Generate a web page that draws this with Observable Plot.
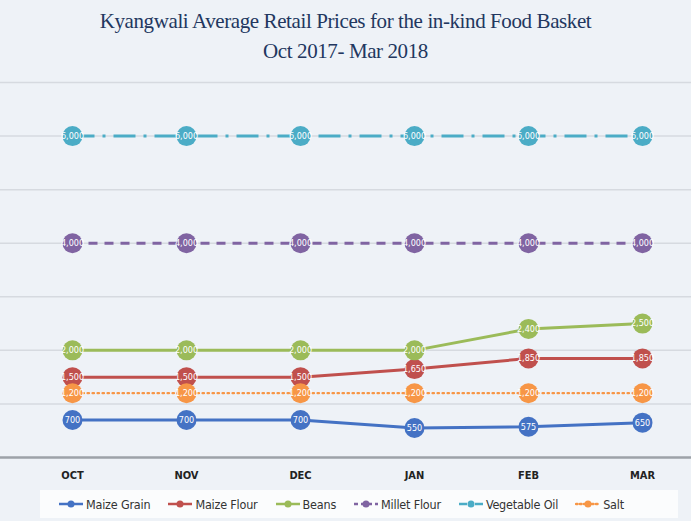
<!DOCTYPE html>
<html><head><meta charset="utf-8">
<script src="https://cdn.jsdelivr.net/npm/d3@7"></script>
<script src="https://cdn.jsdelivr.net/npm/@observablehq/plot@0.6"></script>
<style>
body{margin:0;background:#eef2f7;width:691px;height:521px;overflow:hidden;position:relative;}
#title{height:72px;text-align:center;font-family:"Liberation Serif",serif;color:#22375f;font-size:21px;line-height:30px;padding-top:6px;box-sizing:border-box;letter-spacing:-0.4px;}
#chart{position:absolute;left:0;top:72px;}
#legend{position:absolute;left:40px;top:490px;width:638px;height:28px;background:#fbfcfd;display:flex;align-items:center;gap:17px;padding-left:18px;box-sizing:border-box;font-family:"Liberation Sans Narrow","DejaVu Sans Condensed",sans-serif;font-size:12.5px;letter-spacing:-0.2px;color:#333;}
.item{display:flex;align-items:center;gap:2px;}
</style></head><body>
<div id="title"><div>Kyangwali Average Retail Prices for the in-kind Food Basket</div><div>Oct 2017- Mar 2018</div></div>
<div id="chart"></div>
<div id="legend"></div>
<script>
const months = ["OCT","NOV","DEC","JAN","FEB","MAR"];
const maizeGrain = [700,700,700,550,575,650];
const maizeFlour = [1500,1500,1500,1650,1850,1850];
const beans = [2000,2000,2000,2000,2400,2500];
const milletFlour = [4000,4000,4000,4000,4000,4000];
const vegetableOil = [6000,6000,6000,6000,6000,6000];
const salt = [1200,1200,1200,1200,1200,1200];
const seriesNames = ["Maize Grain","Maize Flour","Beans","Millet Flour","Vegetable Oil","Salt"];
const seriesValues = [maizeGrain, maizeFlour, beans, milletFlour, vegetableOil, salt];
const seriesColors = ["#4472c4","#c0504d","#9bbb59","#8064a2","#4bacc6","#f79646"];
const seriesDash = [null, null, null, "9,7", "22,8,3,8", "1.5,3.5"];
const seriesWidth = [3,3,3,3,3,2.2];
const gridTicks = [1000,2000,3000,4000,5000,6000,7000];

const fmt = d3.format(",");
const marks = [
  Plot.ruleY(gridTicks, {stroke:"#d6dae0", strokeWidth:1.5}),
  Plot.ruleY([0], {stroke:"#9da2a8", strokeWidth:2.5}),
  Plot.axisX({tickSize:0, tickPadding:14, fontSize:11, fontWeight:"bold", fill:"#222", label:null})
];
seriesNames.forEach((name, i) => {
  const data = months.map((m, j) => ({month:m, value:seriesValues[i][j]}));
  marks.push(Plot.line(data, {x:"month", y:"value", stroke:seriesColors[i], strokeWidth:seriesWidth[i], strokeDasharray:seriesDash[i] ?? undefined, strokeLinecap: i===5 ? "round" : "butt"}));
  marks.push(Plot.dot(data, {x:"month", y:"value", r:10, fill:seriesColors[i], stroke:"none"}));
  marks.push(Plot.text(data, {x:"month", y:"value", text:d => fmt(d.value), fill:"white", fontSize:9, fontFamily:"Liberation Sans Narrow, DejaVu Sans Condensed, sans-serif"}));
});

const chart = Plot.plot({
  width:691, height:416, marginTop:10, marginBottom:31, marginLeft:0, marginRight:0,
  x:{type:"point", domain:months, range:[70,644], padding:0, label:null, axis:null},
  y:{domain:[0,7000], axis:null},
  style:{background:"transparent", fontFamily:"Liberation Sans Narrow, DejaVu Sans Condensed, sans-serif"},
  marks
});
document.getElementById("chart").appendChild(chart);

const legend = document.getElementById("legend");
seriesNames.forEach((name, i) => {
  const item = document.createElement("div");
  item.className = "item";
  const dash = seriesDash[i] ? (i===3 ? "4,3" : i===4 ? "8,3,2,3" : "1.5,2.5") : "none";
  item.innerHTML = `<svg width="26" height="12"><line x1="1" x2="25" y1="6" y2="6" stroke="${seriesColors[i]}" stroke-width="2.5" stroke-dasharray="${dash}" stroke-linecap="${i===5?'round':'butt'}"/><circle cx="13" cy="6" r="3.5" fill="${seriesColors[i]}"/></svg><span>${name}</span>`;
  legend.appendChild(item);
});
</script>
</body></html>
